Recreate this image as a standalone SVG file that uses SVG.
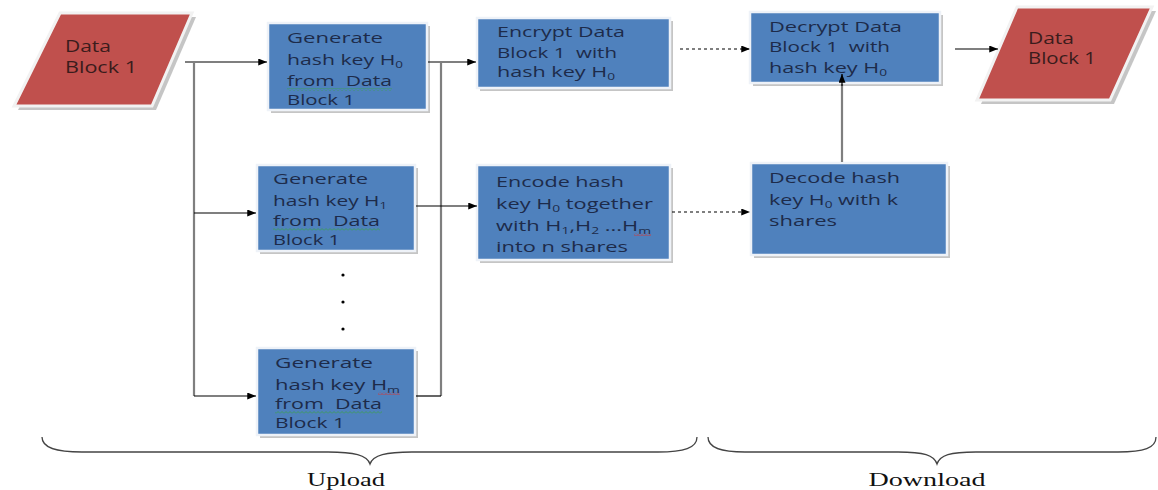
<svg xmlns="http://www.w3.org/2000/svg" width="1158" height="490" viewBox="0 0 1158 490">
<style>
.bg{fill:#ffffff}
.box{fill:#4f81bd;stroke:#eef2f8;stroke-width:2.5}
.shadow{fill:#8c8c8c;opacity:.5}
.para{fill:#c0504d;stroke:#f2f2f2;stroke-width:3}
.t{font-family:"Open Sans","Liberation Sans",sans-serif;font-size:15px;fill:#1d2b4a}
.tr{font-family:"Open Sans","Liberation Sans",sans-serif;font-size:15.5px;fill:#3a1c1c}
.sub{font-size:9.5px}
.ln{stroke:#000;stroke-width:1.2;fill:none}
.gr{stroke:#7f7f7f;stroke-width:2.2;fill:none}
.dash{stroke:#000;stroke-width:1.2;stroke-dasharray:3 3;fill:none}
.brace{stroke:#444;stroke-width:1.3;fill:none}
.lab{font-family:"Liberation Serif",serif;font-size:19px;fill:#111}
</style>
<defs>
<marker id="ah" viewBox="0 0 10 8" refX="10" refY="4" markerWidth="9" markerHeight="7" markerUnits="userSpaceOnUse" orient="auto">
<path d="M0,0 L10,4 L0,8 z" fill="#000"/>
</marker>
<pattern id="zg" width="4" height="3" patternUnits="userSpaceOnUse">
<path d="M0,2.5 L2,0.5 L4,2.5" stroke="#3aa04a" stroke-width="0.8" fill="none"/>
</pattern>
<pattern id="zr" width="4" height="3" patternUnits="userSpaceOnUse">
<path d="M0,2.5 L2,0.5 L4,2.5" stroke="#e0302a" stroke-width="0.8" fill="none"/>
</pattern>
</defs>
<rect class="bg" x="0" y="0" width="1158" height="490"/>

<g id="data-in">
<polygon class="shadow" points="64,17 196,17 156,110 18,110"/>
<polygon class="para" points="60,13 192,13 152,106 14,106"/>
<text class="tr" x="65" y="52" textLength="46" lengthAdjust="spacingAndGlyphs">Data</text>
<text class="tr" x="65" y="73" textLength="72" lengthAdjust="spacingAndGlyphs">Block 1</text>
</g>

<g id="gen-h0">
<rect class="shadow" x="271" y="26" width="159" height="87"/>
<rect class="box" x="268" y="23" width="159" height="87"/>
<text class="t" x="287" y="43" textLength="96" lengthAdjust="spacingAndGlyphs">Generate</text>
<text class="t" x="287" y="65" textLength="116" lengthAdjust="spacingAndGlyphs">hash key H<tspan class="sub" baseline-shift="-3">0</tspan></text>
<text class="t" x="287" y="86" textLength="105" lengthAdjust="spacingAndGlyphs">from&#160; Data</text>
<rect x="287" y="88" width="105" height="3" fill="url(#zg)"/>
<text class="t" x="287" y="105" textLength="68" lengthAdjust="spacingAndGlyphs">Block 1</text>
</g>

<g id="gen-h1">
<rect class="shadow" x="260" y="168" width="158" height="86"/>
<rect class="box" x="257" y="165" width="158" height="86"/>
<text class="t" x="273" y="184" textLength="95" lengthAdjust="spacingAndGlyphs">Generate</text>
<text class="t" x="273" y="206" textLength="114" lengthAdjust="spacingAndGlyphs">hash key H<tspan class="sub" baseline-shift="-3">1</tspan></text>
<text class="t" x="273" y="226" textLength="107" lengthAdjust="spacingAndGlyphs">from&#160; Data</text>
<rect x="273" y="228" width="107" height="3" fill="url(#zg)"/>
<text class="t" x="273" y="245" textLength="67" lengthAdjust="spacingAndGlyphs">Block 1</text>
</g>

<g id="dots">
<circle cx="343" cy="275" r="1.6" fill="#000"/>
<circle cx="343" cy="302" r="1.6" fill="#000"/>
<circle cx="343" cy="329" r="1.6" fill="#000"/>
</g>

<g id="gen-hm">
<rect class="shadow" x="260" y="351" width="158" height="87"/>
<rect class="box" x="257" y="348" width="158" height="87"/>
<text class="t" x="275" y="368" textLength="98" lengthAdjust="spacingAndGlyphs">Generate</text>
<text class="t" x="275" y="390" textLength="125" lengthAdjust="spacingAndGlyphs">hash key H<tspan class="sub" baseline-shift="-3">m</tspan></text>
<rect x="378" y="392" width="22" height="3" fill="url(#zr)"/>
<text class="t" x="275" y="409" textLength="107" lengthAdjust="spacingAndGlyphs">from&#160; Data</text>
<rect x="275" y="411" width="107" height="3" fill="url(#zg)"/>
<text class="t" x="275" y="428" textLength="70" lengthAdjust="spacingAndGlyphs">Block 1</text>
</g>

<g id="encrypt">
<rect class="shadow" x="480" y="21" width="193" height="70"/>
<rect class="box" x="477" y="18" width="193" height="70"/>
<text class="t" x="497" y="37" textLength="128" lengthAdjust="spacingAndGlyphs">Encrypt Data</text>
<text class="t" x="497" y="58" textLength="120" lengthAdjust="spacingAndGlyphs">Block 1&#160; with</text>
<text class="t" x="497" y="77" textLength="118" lengthAdjust="spacingAndGlyphs">hash key H<tspan class="sub" baseline-shift="-3">0</tspan></text>
</g>

<g id="encode">
<rect class="shadow" x="480" y="168" width="193" height="95"/>
<rect class="box" x="477" y="165" width="193" height="95"/>
<text class="t" x="496" y="187" textLength="128" lengthAdjust="spacingAndGlyphs">Encode hash</text>
<text class="t" x="496" y="209" textLength="157" lengthAdjust="spacingAndGlyphs">key H<tspan class="sub" baseline-shift="-3">0</tspan> together</text>
<text class="t" x="496" y="231" textLength="155" lengthAdjust="spacingAndGlyphs">with H<tspan class="sub" baseline-shift="-3">1</tspan>,H<tspan class="sub" baseline-shift="-3">2</tspan> ...H<tspan class="sub" baseline-shift="-3">m</tspan></text>
<rect x="634" y="233" width="17" height="3" fill="url(#zr)"/>
<text class="t" x="496" y="252" textLength="132" lengthAdjust="spacingAndGlyphs">into n shares</text>
</g>

<g id="decrypt">
<rect class="shadow" x="753" y="15" width="190" height="71"/>
<rect class="box" x="750" y="12" width="190" height="71"/>
<text class="t" x="769" y="32" textLength="133" lengthAdjust="spacingAndGlyphs">Decrypt Data</text>
<text class="t" x="769" y="52" textLength="121" lengthAdjust="spacingAndGlyphs">Block 1&#160; with</text>
<text class="t" x="769" y="73" textLength="118" lengthAdjust="spacingAndGlyphs">hash key H<tspan class="sub" baseline-shift="-3">0</tspan></text>
</g>

<g id="decode">
<rect class="shadow" x="754" y="166" width="196" height="92"/>
<rect class="box" x="751" y="163" width="196" height="92"/>
<text class="t" x="769" y="183" textLength="131" lengthAdjust="spacingAndGlyphs">Decode hash</text>
<text class="t" x="769" y="205" textLength="129" lengthAdjust="spacingAndGlyphs">key H<tspan class="sub" baseline-shift="-3">0</tspan> with k</text>
<text class="t" x="769" y="226" textLength="68" lengthAdjust="spacingAndGlyphs">shares</text>
</g>

<g id="data-out">
<polygon class="shadow" points="1021,11 1156,11 1114,104 981,104"/>
<polygon class="para" points="1017,7 1152,7 1110,100 977,100"/>
<text class="tr" x="1028" y="44" textLength="46" lengthAdjust="spacingAndGlyphs">Data</text>
<text class="tr" x="1028" y="64" textLength="68" lengthAdjust="spacingAndGlyphs">Block 1</text>
</g>

<g id="connectors">
<line class="ln" x1="185" y1="62" x2="267" y2="62" marker-end="url(#ah)"/>
<line class="gr" x1="194" y1="62" x2="194" y2="396"/>
<line class="ln" x1="194" y1="213" x2="256" y2="213" marker-end="url(#ah)"/>
<line class="ln" x1="194" y1="396" x2="256" y2="396" marker-end="url(#ah)"/>
<line class="ln" x1="428" y1="62" x2="476" y2="62" marker-end="url(#ah)"/>
<line class="gr" x1="441" y1="62" x2="441" y2="396"/>
<line class="ln" x1="416" y1="396" x2="441" y2="396"/>
<line class="ln" x1="416" y1="206" x2="477" y2="206" marker-end="url(#ah)"/>
<line class="dash" x1="680" y1="49" x2="750" y2="49" marker-end="url(#ah)"/>
<line class="dash" x1="672" y1="212" x2="750" y2="212" marker-end="url(#ah)"/>
<line class="gr" x1="842" y1="162" x2="842" y2="84"/>
<line class="ln" x1="842" y1="86" x2="842" y2="74" marker-end="url(#ah)"/>
<line class="ln" x1="955" y1="49" x2="998" y2="49" marker-end="url(#ah)"/>
</g>

<g id="upload">
<path class="brace" d="M42,437 C42,448 56,452 82,452 L328,452 C354,452 367,455 370,464 C373,455 386,452 412,452 L658,452 C684,452 697,448 697,437"/>
<text class="lab" x="346" y="486" text-anchor="middle" textLength="78" lengthAdjust="spacingAndGlyphs">Upload</text>
</g>

<g id="download">
<path class="brace" d="M708,437 C708,448 721,452 745,452 L898,452 C924,452 934,455 937,464 C940,455 950,452 976,452 L1118,452 C1144,452 1156,448 1156,437"/>
<text class="lab" x="927" y="486" text-anchor="middle" textLength="117" lengthAdjust="spacingAndGlyphs">Download</text>
</g>
</svg>
